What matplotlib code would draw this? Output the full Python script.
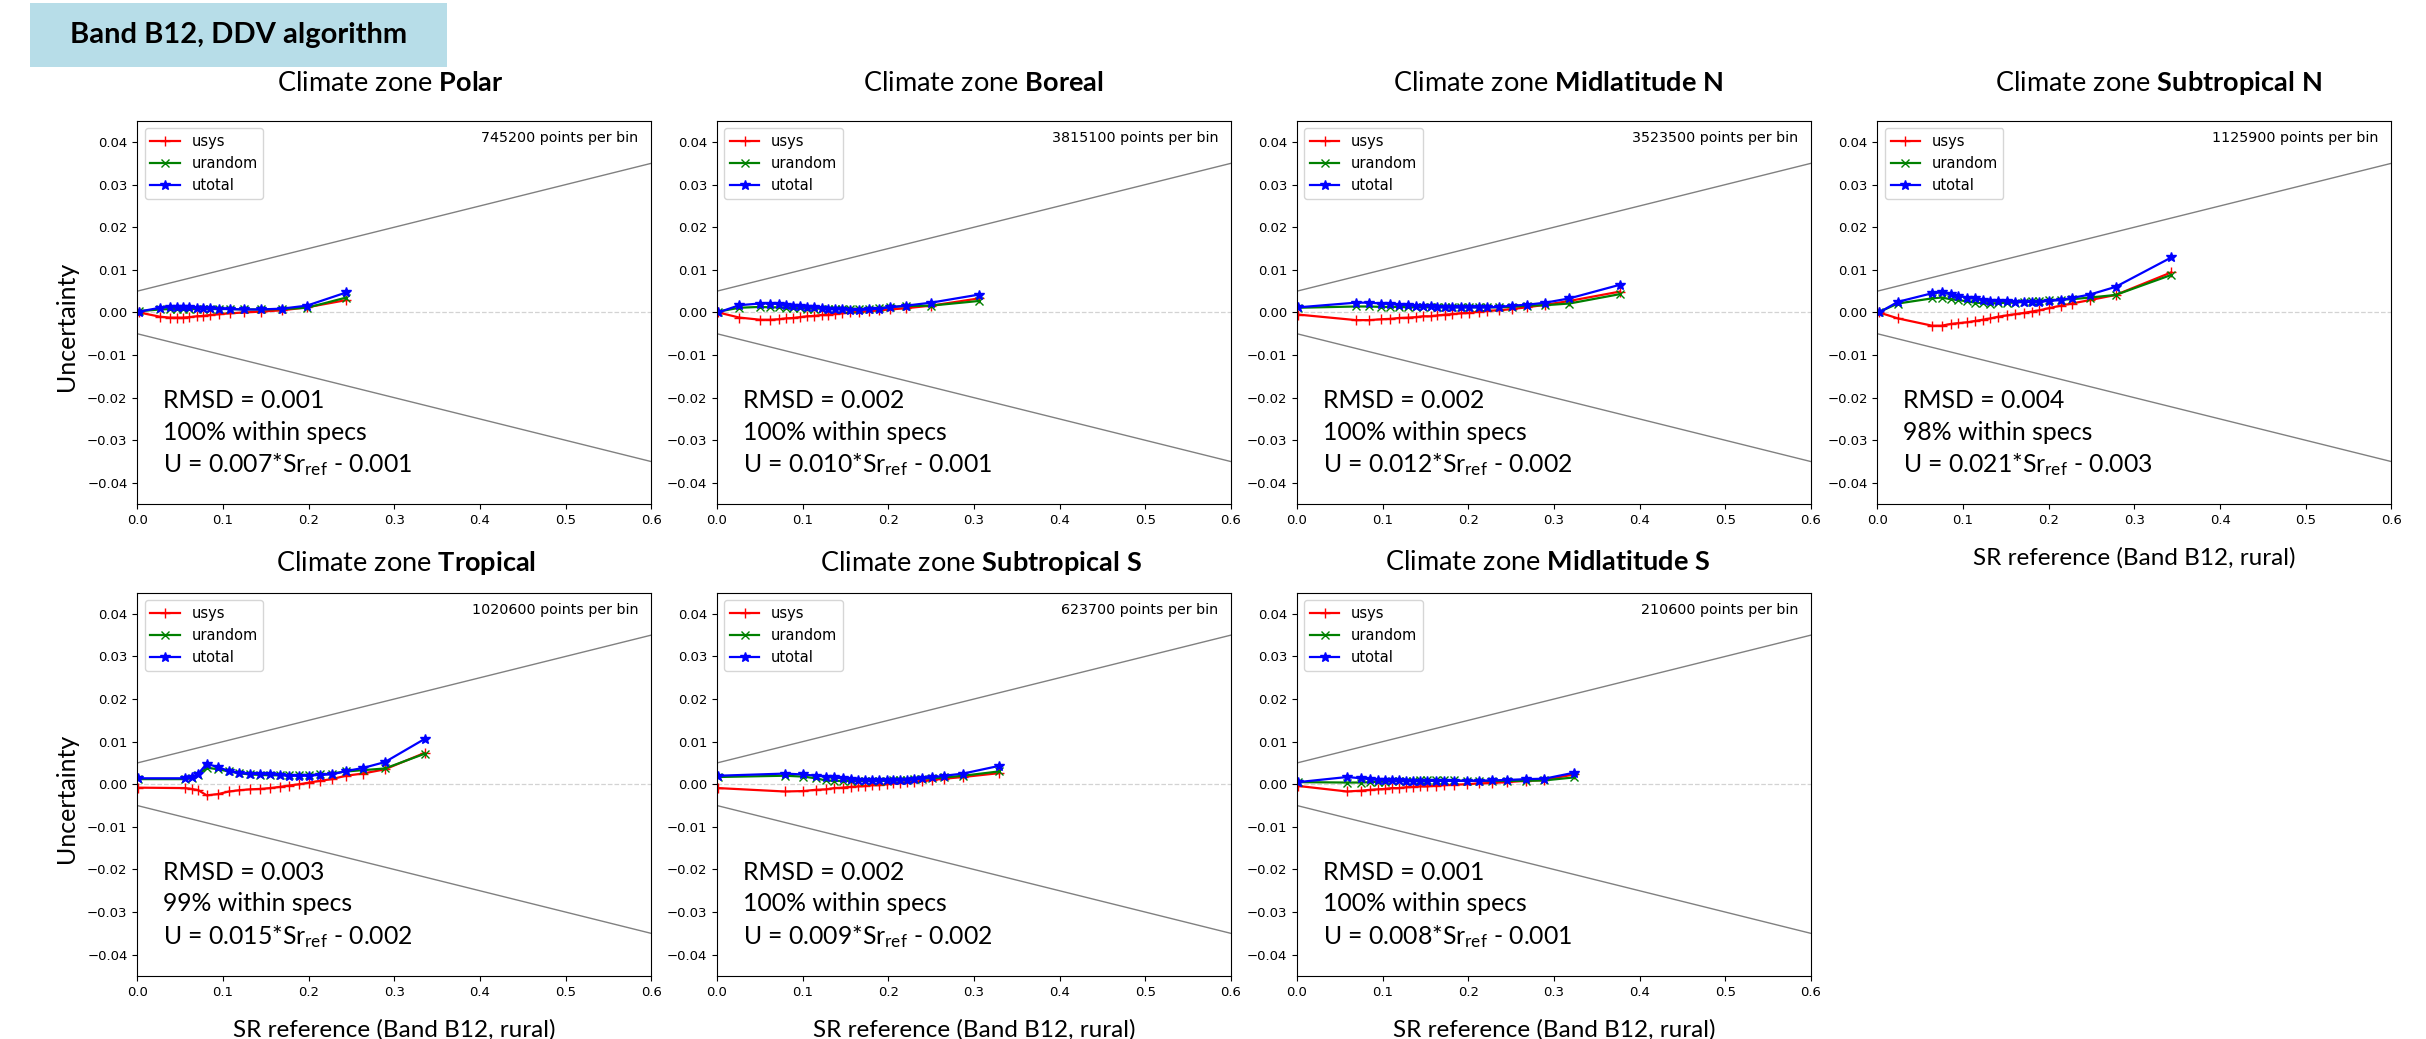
import matplotlib
matplotlib.use('Agg')
import matplotlib.pyplot as plt
from matplotlib.patches import Rectangle

plt.rcParams['mathtext.fontset'] = 'custom'
plt.rcParams['mathtext.rm'] = 'Lato'
plt.rcParams['mathtext.bf'] = 'Lato:bold'
plt.rcParams['mathtext.it'] = 'Lato:italic'

# ---------------- data ----------------
zones = ['Polar', 'Boreal', 'Midlatitude N', 'Subtropical N',
         'Tropical', 'Subtropical S', 'Midlatitude S']
points_per_bin = [745200, 3815100, 3523500, 1125900, 1020600, 623700, 210600]
rmsd = ['0.001', '0.002', '0.002', '0.004', '0.003', '0.002', '0.001']
within = ['100%', '100%', '100%', '98%', '99%', '100%', '100%']
eq_slope = ['0.007', '0.010', '0.012', '0.021', '0.015', '0.009', '0.008']
eq_offset = ['0.001', '0.001', '0.002', '0.003', '0.002', '0.002', '0.001']

spec_x = [0.0, 0.6]
spec_upper = [0.005, 0.035]
spec_lower = [-0.005, -0.035]

polar_x = [0.002, 0.0265, 0.038, 0.0467, 0.0537, 0.0607, 0.0693, 0.077, 0.0849, 0.0957, 0.108, 0.125, 0.144, 0.169, 0.198, 0.244]
polar_usys = [0.0, -0.0010, -0.0012, -0.0012, -0.0012, -0.0011, -0.0009, -0.0008, -0.0006, -0.0004, -0.0002, 0.0, 0.0002, 0.0005, 0.0012, 0.0029]
polar_urandom = [0.0003, 0.0007, 0.0008, 0.0008, 0.0008, 0.0008, 0.0008, 0.0008, 0.0008, 0.0008, 0.0008, 0.0007, 0.0007, 0.0008, 0.0011, 0.0035]
polar_utotal = [0.0002, 0.0011, 0.0013, 0.0013, 0.0012, 0.0012, 0.0011, 0.0010, 0.0010, 0.0009, 0.0008, 0.0007, 0.0007, 0.0009, 0.0016, 0.0047]

boreal_x = [0.0014, 0.026, 0.050, 0.062, 0.072, 0.080, 0.0886, 0.097, 0.105, 0.1136, 0.122, 0.130, 0.138, 0.146, 0.155, 0.166, 0.177, 0.189, 0.202, 0.221, 0.250, 0.306]
boreal_usys = [0.0, -0.0012, -0.0017, -0.0017, -0.0016, -0.0014, -0.0013, -0.0011, -0.0009, -0.0008, -0.0006, -0.0005, -0.0003, -0.0002, 0.0, 0.0002, 0.0003, 0.0005, 0.0007, 0.0010, 0.0016, 0.0033]
boreal_urandom = [0.0002, 0.0011, 0.0013, 0.0012, 0.0012, 0.0011, 0.0010, 0.0010, 0.0009, 0.0009, 0.0009, 0.0009, 0.0009, 0.0009, 0.0009, 0.0008, 0.0009, 0.0010, 0.0013, 0.0015, 0.0016, 0.0027]
boreal_utotal = [0.0, 0.0017, 0.0021, 0.0021, 0.0020, 0.0018, 0.0016, 0.0015, 0.0013, 0.0012, 0.0010, 0.0009, 0.0008, 0.0007, 0.0006, 0.0006, 0.0007, 0.0009, 0.0012, 0.0016, 0.0023, 0.0042]

midn_x = [0.0014, 0.069, 0.084, 0.098, 0.109, 0.119, 0.130, 0.139, 0.147, 0.156, 0.164, 0.173, 0.181, 0.191, 0.201, 0.212, 0.222, 0.236, 0.251, 0.268, 0.290, 0.318, 0.377]
midn_usys = [-0.0005, -0.0018, -0.0018, -0.0016, -0.0015, -0.0013, -0.0012, -0.0011, -0.0009, -0.0009, -0.0007, -0.0005, -0.0004, -0.0002, -0.0001, 0.0002, 0.0004, 0.0005, 0.0008, 0.0012, 0.0018, 0.0027, 0.0049]
midn_urandom = [0.0011, 0.0014, 0.0014, 0.0013, 0.0013, 0.0013, 0.0012, 0.0012, 0.0012, 0.0012, 0.0012, 0.0012, 0.0012, 0.0012, 0.0012, 0.0012, 0.0012, 0.0012, 0.0013, 0.0016, 0.0017, 0.0021, 0.0043]
midn_utotal = [0.0012, 0.0023, 0.0023, 0.0021, 0.0020, 0.0018, 0.0017, 0.0016, 0.0015, 0.0014, 0.0013, 0.0012, 0.0012, 0.0012, 0.0012, 0.0012, 0.0012, 0.0013, 0.0016, 0.0018, 0.0023, 0.0033, 0.0065]

subn_x = [0.002, 0.024, 0.0637, 0.075, 0.0857, 0.0946, 0.105, 0.114, 0.123, 0.132, 0.141, 0.151, 0.161, 0.171, 0.180, 0.189, 0.200, 0.214, 0.227, 0.248, 0.278, 0.343]
subn_usys = [0.0, -0.0014, -0.0031, -0.0031, -0.0027, -0.0025, -0.0023, -0.0020, -0.0017, -0.0014, -0.0010, -0.0007, -0.0004, -0.0001, 0.0002, 0.0005, 0.0010, 0.0016, 0.0021, 0.0029, 0.0041, 0.0094]
subn_urandom = [0.0001, 0.0021, 0.0033, 0.0035, 0.0031, 0.0029, 0.0026, 0.0023, 0.0022, 0.0021, 0.0022, 0.0023, 0.0023, 0.0025, 0.0026, 0.0027, 0.0029, 0.0030, 0.0031, 0.0035, 0.0041, 0.0088]
subn_utotal = [0.0, 0.0025, 0.0045, 0.0047, 0.0043, 0.0039, 0.0035, 0.0033, 0.0030, 0.0027, 0.0027, 0.0026, 0.0025, 0.0025, 0.0025, 0.0025, 0.0027, 0.0029, 0.0034, 0.0042, 0.0060, 0.0129]

trop_x = [0.001, 0.0557, 0.0635, 0.0712, 0.081, 0.0945, 0.107, 0.119, 0.131, 0.143, 0.155, 0.167, 0.177, 0.189, 0.201, 0.213, 0.227, 0.2436, 0.263, 0.289, 0.336]
trop_usys = [-0.0008, -0.0009, -0.0011, -0.0014, -0.0026, -0.0023, -0.0017, -0.0014, -0.0012, -0.0011, -0.0009, -0.0006, -0.0003, 0.0, 0.0004, 0.0008, 0.0012, 0.0020, 0.0025, 0.0035, 0.0074]
trop_urandom = [0.0012, 0.0012, 0.0014, 0.0022, 0.0039, 0.0035, 0.0030, 0.0026, 0.0023, 0.0022, 0.0021, 0.0021, 0.0021, 0.0022, 0.0022, 0.0023, 0.0025, 0.0030, 0.0033, 0.0037, 0.0072]
trop_utotal = [0.0014, 0.0014, 0.0016, 0.0025, 0.0048, 0.0040, 0.0031, 0.0026, 0.0025, 0.0024, 0.0023, 0.0022, 0.0020, 0.0020, 0.0020, 0.0022, 0.0023, 0.0031, 0.0038, 0.0052, 0.0107]

subs_x = [0.0014, 0.0789, 0.1006, 0.1152, 0.1269, 0.1369, 0.1465, 0.156, 0.1645, 0.1728, 0.181, 0.1895, 0.198, 0.206, 0.214, 0.2215, 0.230, 0.2393, 0.2507, 0.2653, 0.2873, 0.329]
subs_usys = [-0.0009, -0.0017, -0.0016, -0.0013, -0.0012, -0.0009, -0.0008, -0.0006, -0.0005, -0.0004, -0.0002, -0.0002, 0.0, 0.0002, 0.0003, 0.0005, 0.0006, 0.0008, 0.0010, 0.0013, 0.0017, 0.0026]
subs_urandom = [0.0017, 0.0020, 0.0018, 0.0014, 0.0009, 0.0008, 0.0008, 0.0008, 0.0008, 0.0008, 0.0008, 0.0008, 0.0008, 0.0009, 0.0009, 0.0010, 0.0012, 0.0013, 0.0014, 0.0016, 0.0020, 0.0030]
subs_utotal = [0.0020, 0.0025, 0.0023, 0.0020, 0.0018, 0.0016, 0.0014, 0.0012, 0.0011, 0.0010, 0.0009, 0.0009, 0.0009, 0.0009, 0.0010, 0.0011, 0.0012, 0.0014, 0.0016, 0.0020, 0.0025, 0.0043]

mids_x = [0.0014, 0.0585, 0.0752, 0.0857, 0.094, 0.1023, 0.1107, 0.119, 0.1273, 0.1357, 0.144, 0.1523, 0.162, 0.172, 0.1836, 0.198, 0.2128, 0.2274, 0.2453, 0.267, 0.2887, 0.3232]
mids_usys = [-0.0004, -0.0017, -0.0015, -0.0013, -0.0012, -0.0011, -0.0009, -0.0009, -0.0007, -0.0006, -0.0005, -0.0005, -0.0003, -0.0002, -0.0001, 0.0, 0.0002, 0.0003, 0.0005, 0.0008, 0.0010, 0.0023]
mids_urandom = [0.0005, 0.0004, 0.0004, 0.0005, 0.0006, 0.0006, 0.0007, 0.0008, 0.0008, 0.0008, 0.0009, 0.0009, 0.0009, 0.0009, 0.0009, 0.0008, 0.0008, 0.0008, 0.0008, 0.0008, 0.0009, 0.0016]
mids_utotal = [0.0005, 0.0017, 0.0014, 0.0012, 0.0011, 0.0010, 0.0009, 0.0009, 0.0008, 0.0008, 0.0008, 0.0008, 0.0008, 0.0008, 0.0008, 0.0008, 0.0008, 0.0009, 0.0010, 0.0012, 0.0013, 0.0027]

series = [
    (polar_x, polar_usys, polar_urandom, polar_utotal),
    (boreal_x, boreal_usys, boreal_urandom, boreal_utotal),
    (midn_x, midn_usys, midn_urandom, midn_utotal),
    (subn_x, subn_usys, subn_urandom, subn_utotal),
    (trop_x, trop_usys, trop_urandom, trop_utotal),
    (subs_x, subs_usys, subs_urandom, subs_utotal),
    (mids_x, mids_usys, mids_urandom, mids_utotal),
]

# ---------------- layout ----------------
W, H = 2426, 1039
fig = plt.figure(figsize=(W / 100, H / 100), dpi=100)


def fx(px):
    return px / W


def fy(py):
    return 1 - py / H


col_lefts = [137.3, 717, 1297, 1877.4]
row_tops = [120.7, 592.5]
ax_w, ax_h = 514, 383.5
slots = [(0, 0), (0, 1), (0, 2), (0, 3), (1, 0), (1, 1), (1, 2)]
title_x = [390, 983, 1558, 2158, 406, 981, 1548]
title_y = [83.3, 83.3, 83.3, 83.3, 563, 563, 563]

# banner
fig.patches.append(Rectangle((fx(30), fy(66.7)), (447 - 30) / W, (66.7 - 3.3) / H,
                             transform=fig.transFigure, facecolor='#b7dde8',
                             edgecolor='none', zorder=0))
fig.text(fx(70), fy(35), 'Band B12, DDV algorithm', family='Lato', fontweight='bold',
         fontsize=21, va='center', ha='left')

body_size = 17.8
for i, (r, c) in enumerate(slots):
    left = col_lefts[c]
    top = row_tops[r]
    ax = fig.add_axes([fx(left), fy(top + ax_h), ax_w / W, ax_h / H])
    x, us, ur, ut = series[i]
    ax.plot(spec_x, spec_upper, color='gray', lw=1.0)
    ax.plot(spec_x, spec_lower, color='gray', lw=1.0)
    ax.axhline(0, color='lightgray', ls='--', lw=0.9)
    ax.plot(x, us, color='red', marker='+', ms=7, lw=1.6, label='usys')
    ax.plot(x, ur, color='green', marker='x', ms=6, lw=1.6, label='urandom')
    ax.plot(x, ut, color='blue', marker='*', ms=7, lw=1.6, label='utotal')
    ax.set_xlim(0, 0.6)
    ax.set_ylim(-0.045, 0.045)
    ax.set_xticks([0, 0.1, 0.2, 0.3, 0.4, 0.5, 0.6])
    ax.set_yticks([-0.04, -0.03, -0.02, -0.01, 0.0, 0.01, 0.02, 0.03, 0.04])
    ax.tick_params(labelsize=9.5)
    ax.legend(loc='upper left', fontsize=10.5)
    ax.text(0.975, 0.955, f'{points_per_bin[i]} points per bin', transform=ax.transAxes,
            ha='right', va='center', fontsize=10.3)
    ax.text(0.05, 0.27, f'RMSD = {rmsd[i]}', transform=ax.transAxes, family='Lato',
            fontsize=body_size, va='center', ha='left')
    ax.text(0.05, 0.188, f'{within[i]} within specs', transform=ax.transAxes, family='Lato',
            fontsize=body_size, va='center', ha='left')
    ax.text(0.05, 0.104, 'U = ' + eq_slope[i] + r'*Sr$_{\mathrm{ref}}$' + ' - ' + eq_offset[i],
            transform=ax.transAxes, family='Lato', fontsize=body_size, va='center', ha='left')
    name = zones[i].replace(' ', r'\ ')
    fig.text(fx(title_x[i]), fy(title_y[i]), 'Climate zone ' + r'$\mathbf{' + name + '}$',
             family='Lato', fontsize=19.5, ha='center', va='center')

# axis labels
for yc in [326, 798]:
    fig.text(fx(67), fy(yc), 'Uncertainty', family='Lato', fontsize=18, rotation=90,
             ha='center', va='center')
for xc, yc in [(2134, 558), (394, 1030), (974, 1030), (1554, 1030)]:
    fig.text(fx(xc), fy(yc), 'SR reference (Band B12, rural)', family='Lato', fontsize=17.5,
             ha='center', va='center')

fig.savefig('out.png', dpi=100)
